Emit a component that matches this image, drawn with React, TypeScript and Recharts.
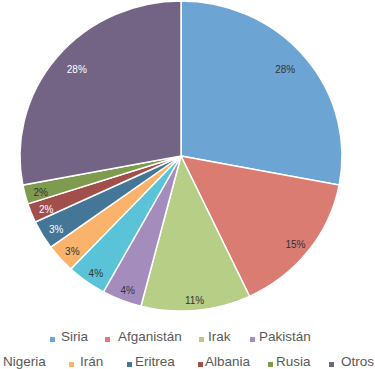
import React from "react";
import { PieChart, Pie, Cell, Legend } from "recharts";

const categories = ["Siria", "Afganistán", "Irak", "Pakistán", "Nigeria", "Irán", "Eritrea", "Albania", "Rusia", "Otros"];
const values = [28, 15, 11, 4, 4, 3, 3, 2, 2, 28];
const colors = ["#6CA4D3", "#DA7C72", "#B7CE86", "#A48DBD", "#5BC3D7", "#FBB36B", "#447698", "#A24E4B", "#7F9B4F", "#736385"];
const labelColors = ["#333333", "#333333", "#333333", "#333333", "#333333", "#333333", "#ffffff", "#ffffff", "#333333", "#ffffff"];

const data = categories.map((name, i) => ({ name, value: values[i] }));

const RAD = Math.PI / 180;

const renderLabel = (props: any) => {
  const { cx, cy, midAngle, outerRadius, percent, index } = props;
  const r = outerRadius * (percent > 0.2 ? 0.84 : 0.9);
  const x = cx + r * Math.cos(-midAngle * RAD);
  const y = cy + r * Math.sin(-midAngle * RAD);
  return (
    <text x={x} y={y} fill={labelColors[index]} fontSize={10} textAnchor="middle" dominantBaseline="central" fontFamily="Liberation Sans, Arial, sans-serif">
      {`${Math.round(percent * 100)}%`}
    </text>
  );
};

// legend item layout: [row, markerX, textX]
const legendLayout: [number, number | null, number][] = [
  [0, 50, 61],
  [0, 105, 118],
  [0, 199, 208],
  [0, 250, 259],
  [1, null, 3],
  [1, 69, 80],
  [1, 127, 135],
  [1, 198, 205],
  [1, 268, 276],
  [1, 329, 341],
];

const LegendContent = () => {
  const style: React.CSSProperties = { position: "relative", width: 375, height: 40, fontFamily: "Liberation Sans, Arial, sans-serif", fontSize: 13.5, color: "#595959", whiteSpace: "nowrap" };
  return (
    <div style={style}>
      {legendLayout.map(([row, mx, tx], i) => {
        const top = row === 0 ? 0 : 25;
        return (
          <React.Fragment key={i}>
            {mx !== null && (
              <span style={{ position: "absolute", left: mx, top: top + 6, width: 5, height: 5, background: colors[i] }} />
            )}
            <span style={{ position: "absolute", left: tx, top: top - 2, lineHeight: "16px" }}>{categories[i]}</span>
          </React.Fragment>
        );
      })}
    </div>
  );
};

export default function App() {
  return (
    <div style={{ position: "absolute", left: 0, top: 0, width: 375, height: 369, background: "#fff" }}>
      <style>{`.recharts-pie { transform: scaleY(0.963); transform-origin: 181px 156px; }`}</style>
      <PieChart width={375} height={369} margin={{ top: 0, right: 0, bottom: 0, left: 0 }}>
        <Pie
          data={data}
          dataKey="value"
          nameKey="name"
          cx={181}
          cy={156}
          outerRadius={161}
          startAngle={90}
          endAngle={-270}
          stroke="#ffffff"
          strokeWidth={1.5}
          label={renderLabel}
          labelLine={false}
          isAnimationActive={false}
        >
          {data.map((d, i) => (
            <Cell key={d.name} fill={colors[i]} />
          ))}
        </Pie>
        <Legend content={<LegendContent />} wrapperStyle={{ left: 0, top: 331, width: 375, height: 40 }} />
      </PieChart>
    </div>
  );
}
